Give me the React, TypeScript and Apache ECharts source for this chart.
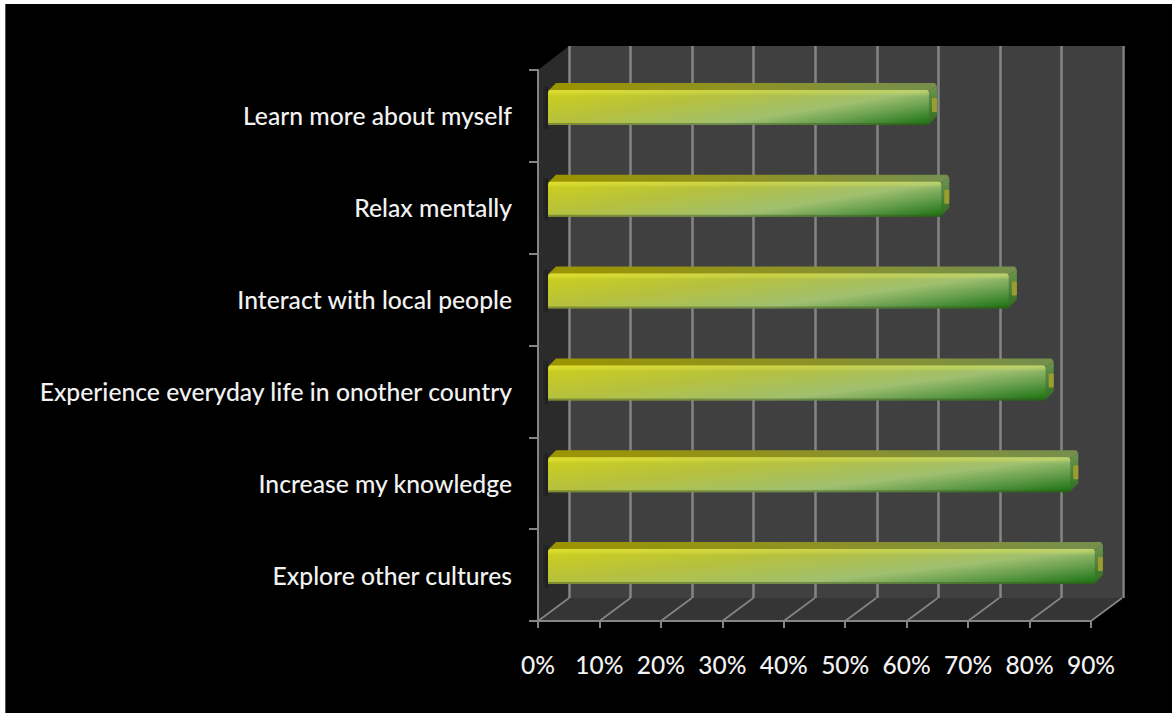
import React, { useEffect, useRef } from "react";
import * as echarts from "echarts";

const categories = [
  "Explore other cultures",
  "Increase my knowledge",
  "Experience everyday life in onother country",
  "Interact with local people",
  "Relax mentally",
  "Learn more about myself",
];
const values = [89, 85, 81, 75, 64, 62];
const xTicks = [0, 10, 20, 30, 40, 50, 60, 70, 80, 90];

const FONT = "Lato, 'Noto Sans', sans-serif";
const DX = 31;
const DY = 23;
const LINE = "#858585";

const lg = (x: number, y: number, x2: number, y2: number, stops: [number, string][]) =>
  new echarts.graphic.LinearGradient(x, y, x2, y2, stops.map(([offset, color]) => ({ offset, color })));

function renderWalls(params: any, api: any) {
  const c = params.coordSys;
  const l = c.x, r = c.x + c.width, t = c.y, b = c.y + c.height;
  return {
    type: "group",
    children: [
      { type: "polygon", shape: { points: [[l + DX, t - 24], [r + DX, t - 24], [r + DX, b - DY], [l + DX, b - DY]] }, style: { fill: "#404040" } },
      { type: "polygon", shape: { points: [[l, t], [l + DX, t - 24], [l + DX, b - DY], [l, b]] }, style: { fill: "#2b2b2b" } },
      { type: "polygon", shape: { points: [[l, b], [l + DX, b - DY], [r + DX, b - DY], [r, b]] }, style: { fill: "#353535" } },
    ],
  };
}

function renderFloorLine(params: any, api: any) {
  const c = params.coordSys;
  const x = api.coord([api.value(0), 0])[0];
  const b = c.y + c.height;
  return {
    type: "line",
    shape: { x1: x, y1: b, x2: x + DX, y2: b - DY },
    style: { stroke: LINE, lineWidth: 1.6 },
  };
}

function renderBar(params: any, api: any) {
  const end = api.coord([api.value(0), api.value(1)]);
  const start = api.coord([0, api.value(1)]);
  const h = 35;
  const x0 = start[0] + 10;
  const x1 = end[0] + 10;
  const yTop = end[1] - 26;
  const yBot = yTop + h;
  const dx = 8;
  const dy = 7;
  return {
    type: "group",
    children: [
      // soft shadow on the side wall
      {
        type: "rect",
        shape: { x: x0 - 6, y: yTop - 4, width: 6, height: h + 8 },
        style: { fill: lg(0, 0, 1, 0, [[0, "rgba(18,18,18,0)"], [1, "rgba(18,18,18,0.55)"]]) },
      },
      // top face
      {
        type: "polygon",
        shape: { points: [[x0, yTop + 1], [x0 + dx, yTop - dy], [x1 + dx - 2, yTop - dy], [x1 + dx, yTop - dy + 3], [x1, yTop + 1]] },
        style: { fill: lg(0, 0, 1, 0, [[0, "#9c9400"], [0.5, "#8e9226"], [1, "#768f4e"]]) },
      },
      // end face
      {
        type: "polygon",
        shape: { points: [[x1, yTop + 1], [x1 + dx, yTop - dy + 3], [x1 + dx, yBot - dy - 2], [x1 - 1, yBot]] },
        style: { fill: lg(0, 0, 0, 1, [[0, "#6f9450"], [1, "#2c6d1f"]]) },
      },
      {
        type: "rect",
        shape: { x: x1 + 3, y: yTop + 8, width: 5, height: 14, r: 1 },
        style: { fill: "#9a9e30" },
      },
      // front face
      {
        type: "rect",
        shape: { x: x0, y: yTop, width: x1 - x0, height: h, r: [3, 3, 2, 0] },
        style: {
          fill: lg(0, 0, 1.19, 0.654, [
            [0, "#cfd01a"],
            [0.355, "#b4c040"],
            [0.645, "#a0c070"],
            [0.82, "#5f9a48"],
            [1, "#17700f"],
          ]),
        },
      },
      // bright upper edge
      {
        type: "rect",
        shape: { x: x0, y: yTop, width: x1 - x0, height: 6, r: [3, 3, 0, 0] },
        style: { fill: lg(0, 0, 0, 1, [[0, "rgba(255,255,100,0.32)"], [0.5, "rgba(255,255,100,0.22)"], [1, "rgba(255,255,100,0)"]]) },
      },
      // dark lower edge
      {
        type: "rect",
        shape: { x: x0, y: yBot - 2, width: x1 - x0, height: 2 },
        style: { fill: "rgba(60,80,30,0.45)" },
      },
    ],
  };
}

export default function App() {
  const ref = useRef<HTMLDivElement>(null);
  useEffect(() => {
    document.body.style.margin = "0";
    document.body.style.background = "#ffffff";
    const chart = echarts.init(ref.current!, undefined, { renderer: "svg" });
    chart.setOption({
      animation: false,
      backgroundColor: "#ffffff",
      textStyle: { fontFamily: FONT },
      graphic: [
        { type: "rect", z: -10, shape: { x: 5, y: 4, width: 1167, height: 709 }, style: { fill: "#000000" } },
        { type: "rect", z: -9, shape: { x: 5, y: 4, width: 1, height: 709 }, style: { fill: "#555555" } },
      ],
      grid: [
        { left: 538, top: 70, width: 553, height: 551 },
        { left: 569, top: 46, width: 554, height: 552 },
      ],
      xAxis: [
        {
          type: "value",
          gridIndex: 0,
          min: 0,
          max: 90,
          interval: 10,
          axisLine: { show: true, lineStyle: { color: LINE, width: 2 } },
          axisTick: { show: true, length: 7, lineStyle: { color: LINE, width: 2 } },
          axisLabel: { color: "#f2f2f2", fontSize: 24.5, fontWeight: 500, fontFamily: FONT, margin: 31, formatter: (v: number) => xTicks.includes(v) ? `${v}%` : "" },
          splitLine: { show: false },
        },
        {
          type: "value",
          gridIndex: 1,
          min: 0,
          max: 90,
          interval: 10,
          axisLine: { show: false },
          axisTick: { show: false },
          axisLabel: { show: false },
          splitLine: { show: true, lineStyle: { color: LINE, width: 2.5 } },
        },
      ],
      yAxis: [
        {
          type: "category",
          gridIndex: 0,
          data: categories,
          axisLine: { show: true, lineStyle: { color: LINE, width: 2 } },
          axisTick: { show: true, length: 9, lineStyle: { color: LINE, width: 2 } },
          axisLabel: { color: "#f2f2f2", fontSize: 24.7, fontWeight: 500, fontFamily: FONT, margin: 26 },
          splitLine: { show: false },
        },
        {
          type: "value",
          gridIndex: 1,
          min: 0,
          max: 1,
          show: false,
          splitLine: { show: false },
        },
      ],
      series: [
        {
          type: "custom",
          z: -1,
          silent: true,
          xAxisIndex: 0,
          yAxisIndex: 0,
          clip: false,
          renderItem: renderWalls,
          data: [[0, 0]],
          encode: { x: 0, y: 1 },
        },
        {
          type: "custom",
          z: 1,
          silent: true,
          xAxisIndex: 0,
          yAxisIndex: 0,
          clip: false,
          renderItem: renderFloorLine,
          data: xTicks.map((t) => [t, 0]),
          encode: { x: 0, y: 1 },
        },
        {
          type: "custom",
          z: 3,
          xAxisIndex: 0,
          yAxisIndex: 0,
          clip: false,
          renderItem: renderBar,
          data: values.map((v, i) => [v, i]),
          encode: { x: 0, y: 1 },
        },
      ],
    });
    return () => chart.dispose();
  }, []);
  return <div ref={ref} style={{ width: 1172, height: 713 }} />;
}
